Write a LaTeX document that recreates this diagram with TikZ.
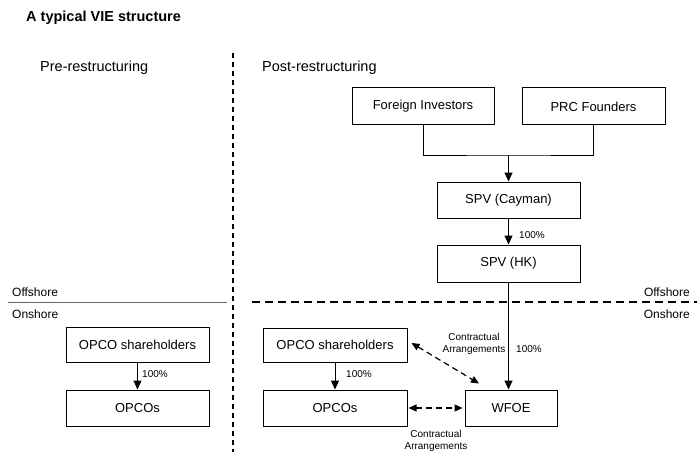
\documentclass[tikz,border=0pt]{standalone}
\usepackage{fontspec}
\setmainfont{Liberation Sans}
\usepackage{tikz}
\usetikzlibrary{arrows.meta}
\usetikzlibrary{calc}
\usetikzlibrary{positioning}

\begin{document}
\begin{tikzpicture}[
		x=1pt, y=-1pt,
		every node/.style={inner sep=0pt},
		entity/.style={draw, line width=1pt, minimum width=143pt, minimum height=36pt, font=\fontsize{13}{15}\selectfont},
		own/.style={line width=1pt, -{Triangle[length=9pt,width=8pt]}},
		link/.style={line width=1pt},
		contract/.style={line width=1.2pt, dash pattern=on 6pt off 4pt, {Triangle[length=8pt,width=7pt]}-{Triangle[length=8pt,width=7pt]}},
		pct/.style={font=\fontsize{10}{12}\selectfont, anchor=west},
		note/.style={font=\fontsize{10}{12}\selectfont, align=center},
		zone/.style={font=\fontsize{12}{14}\selectfont},
		heading/.style={font=\fontsize{14.5}{17}\selectfont, anchor=west}
	]
	\useasboundingbox (0,0) rectangle (697,452);

	\node[font=\fontsize{14.5}{17}\selectfont\bfseries, anchor=west] (title) at (26,18) {A typical VIE structure};
	\node[heading] (pre) at (40,68) {Pre-restructuring};
	\node[heading] (post) at (262,68) {Post-restructuring};

	% dividers
	\coordinate (vtop) at (233,53);
	\coordinate (vbot) at (233,452);
	\draw[line width=1.3pt, dash pattern=on 5pt off 4pt] (vtop) -- (vbot);
	\coordinate (sl) at (8,302);
	\coordinate (sr) at (227,302);
	\draw[line width=1pt, gray!80!black] (sl) -- (sr);
	\coordinate (dl) at (252,302);
	\coordinate (dr) at (697,302);
	\draw[line width=1.3pt, dash pattern=on 8pt off 5pt] (dl) -- (dr);

	\node[zone, anchor=west] (offl) at (12,292) {Offshore};
	\node[zone, anchor=west] (onl) at (12,314) {Onshore};
	\node[zone, anchor=east] (offr) at (690,292) {Offshore};
	\node[zone, anchor=east] (onr) at (690,314) {Onshore};

	% pre-restructuring
	\node[entity, minimum height=35pt] (lsh) at (137.5,345) {OPCO shareholders};
	\node[entity] (lop) at (137.5,408) {OPCOs};
	\draw[own] (lsh) -- (lop);
	\node[pct] (lpct) at (142,374) {100\%};

	% post-restructuring
	\node[entity, minimum width=142pt, minimum height=37pt] (fi) at (423,106.5) {Foreign Investors};
	\node[entity, minimum height=37pt] (prc) at (593.5,106.5) {PRC Founders};
	\node[entity] (cay) at (508.5,200) {SPV (Cayman)};
	\node[entity, minimum height=37pt] (hk) at (508.5,263.5) {SPV (HK)};
	\node[entity, minimum width=92pt] (wfoe) at (511,408) {WFOE};
	\node[entity, minimum width=144pt, minimum height=34pt] (rsh) at (335,345) {OPCO shareholders};
	\node[entity, minimum width=144pt] (rop) at (335,408) {OPCOs};

	\coordinate (jn) at (508.5,155);
	\draw[link] (fi.south) |- (jn) -| (prc.south);
	\draw[own] (jn) -- (cay);
	\draw[own] (cay) -- (hk);
	\node[pct] (cpct) at (519,235) {100\%};
	\draw[own] (hk) -- (hk |- wfoe.north);
	\node[pct] (hpct) at (516,349) {100\%};
	\draw[own] (rsh) -- (rop);
	\node[pct] (rpct) at (346,374) {100\%};

	\draw[contract] ($(rsh.east)+(4,-2)$) -- ($(wfoe.north)+(-32,-6)$);
	\draw[contract, shorten <=1pt, shorten >=2pt] (rop) -- (wfoe);
	\node[note] (ca1) at (474,344) {Contractual\\Arrangements};
	\node[note] (ca2) at (436,441) {Contractual\\Arrangements};
\end{tikzpicture}
\end{document}
